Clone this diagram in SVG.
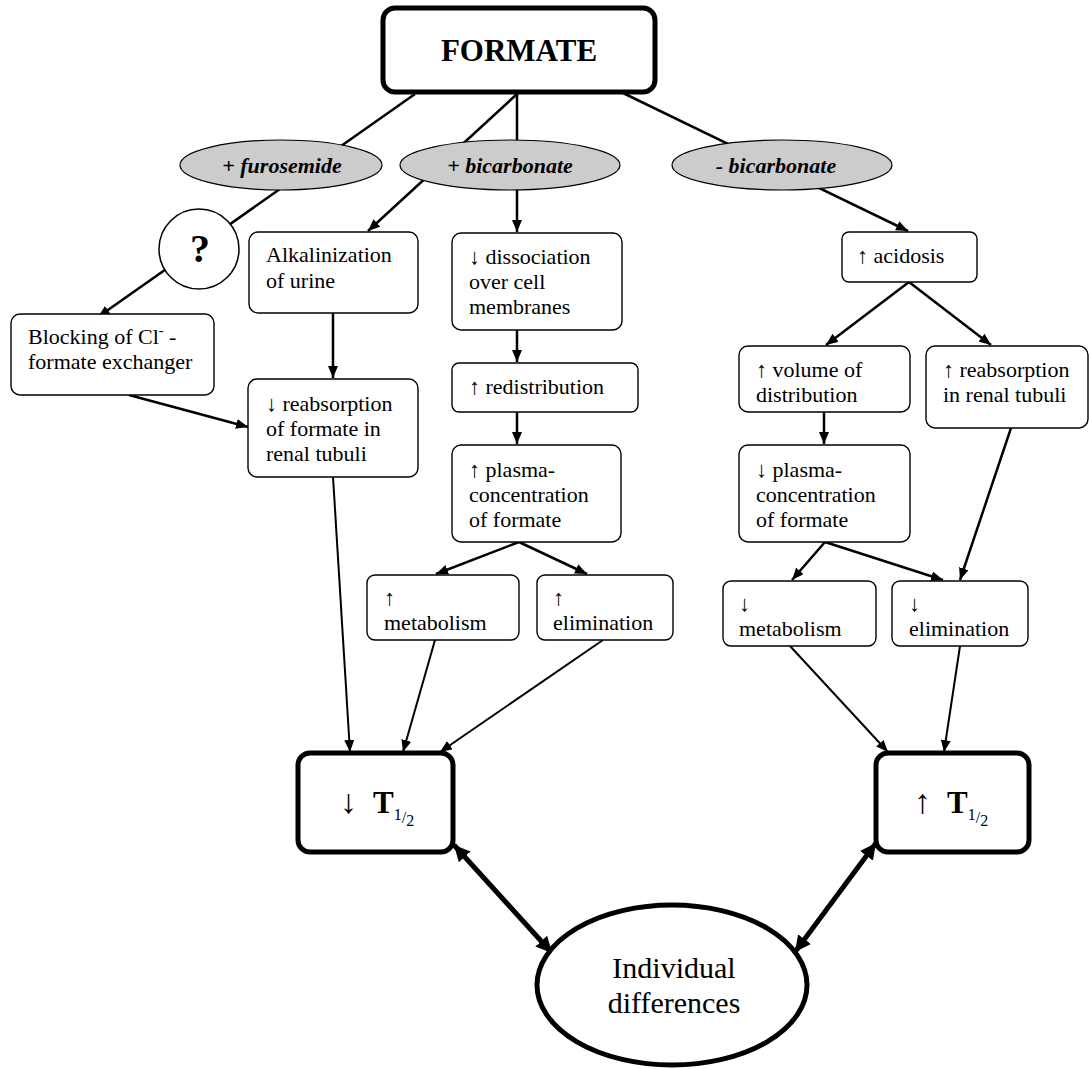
<svg xmlns="http://www.w3.org/2000/svg" width="1089" height="1069" viewBox="0 0 1089 1069">
<style>
.box{fill:#fff;stroke:#000;stroke-width:1.4}
.thick{fill:#fff;stroke:#000;stroke-width:5}
.ell{fill:#cccccc;stroke:#000;stroke-width:1.2}
.t{font-family:'Liberation Serif',serif;font-size:22px;fill:#000}
.ind{font-family:'Liberation Serif',serif;font-size:30px;fill:#000}
.lab{font-family:'Liberation Serif',serif;font-size:22px;font-weight:bold;font-style:italic;fill:#000}
.big{font-family:'Liberation Serif',serif;font-weight:bold;fill:#000}
.sub{font-weight:normal;font-size:16px}
.c{stroke:#000;stroke-width:2.5;fill:none}
.c2{stroke:#000;stroke-width:2;fill:none}
.cd{stroke:#000;stroke-width:5;fill:none}
</style>
<defs>
<marker id="ah" viewBox="0 0 12 10" refX="12" refY="5" markerWidth="12" markerHeight="10" markerUnits="userSpaceOnUse" orient="auto"><path d="M0,0 L12,5 L0,10 z" fill="#000"/></marker>
<marker id="ahb" viewBox="0 0 16 16" refX="16" refY="8" markerWidth="16" markerHeight="16" markerUnits="userSpaceOnUse" orient="auto-start-reverse"><path d="M0,0 L16,8 L0,16 z" fill="#000"/></marker>
</defs>

<g id="connectors">
<line class="c" x1="415" y1="94" x2="98" y2="317" marker-end="url(#ah)"/>
<line class="c" x1="517" y1="94" x2="368" y2="231" marker-end="url(#ah)"/>
<line class="c" x1="517" y1="94" x2="517" y2="232" marker-end="url(#ah)"/>
<line class="c" x1="623" y1="93" x2="908" y2="231" marker-end="url(#ah)"/>
<line class="c" x1="129" y1="395" x2="248" y2="427" marker-end="url(#ah)"/>
<line class="c" x1="333" y1="313" x2="333" y2="378" marker-end="url(#ah)"/>
<line class="c" x1="517" y1="330" x2="517" y2="362" marker-end="url(#ah)"/>
<line class="c" x1="517" y1="412" x2="517" y2="444" marker-end="url(#ah)"/>
<line class="c" x1="519" y1="542" x2="436" y2="574" marker-end="url(#ah)"/>
<line class="c" x1="519" y1="542" x2="587" y2="574" marker-end="url(#ah)"/>
<line class="c2" x1="333" y1="477" x2="350" y2="752" marker-end="url(#ah)"/>
<line class="c2" x1="435" y1="640" x2="403" y2="752" marker-end="url(#ah)"/>
<line class="c2" x1="603" y1="640" x2="440" y2="752" marker-end="url(#ah)"/>
<line class="c" x1="909" y1="282" x2="826" y2="345" marker-end="url(#ah)"/>
<line class="c" x1="909" y1="282" x2="991" y2="345" marker-end="url(#ah)"/>
<line class="c" x1="824" y1="412" x2="824" y2="444" marker-end="url(#ah)"/>
<line class="c" x1="825" y1="542" x2="792" y2="580" marker-end="url(#ah)"/>
<line class="c" x1="825" y1="542" x2="943" y2="580" marker-end="url(#ah)"/>
<line class="c" x1="1011" y1="428" x2="960" y2="580" marker-end="url(#ah)"/>
<line class="c2" x1="790" y1="646" x2="888" y2="752" marker-end="url(#ah)"/>
<line class="c2" x1="960" y1="646" x2="944" y2="752" marker-end="url(#ah)"/>
<line class="cd" x1="454" y1="845" x2="552" y2="953" marker-start="url(#ahb)" marker-end="url(#ahb)"/>
<line class="cd" x1="876" y1="843" x2="795" y2="952" marker-start="url(#ahb)" marker-end="url(#ahb)"/>
</g>

<g id="formate"><rect class="thick" x="383" y="8" width="272" height="84" rx="12"/><text class="big" x="519" y="61" font-size="31" text-anchor="middle">FORMATE</text></g>
<g id="furosemide"><ellipse class="ell" cx="281" cy="165" rx="101" ry="25"/><text class="lab" x="282" y="173" text-anchor="middle">+ furosemide</text></g>
<g id="bicarb-plus"><ellipse class="ell" cx="510" cy="165" rx="110" ry="25"/><text class="lab" x="510" y="173" text-anchor="middle">+  bicarbonate</text></g>
<g id="bicarb-minus"><ellipse class="ell" cx="782" cy="165" rx="110" ry="25"/><text class="lab" x="776" y="173" text-anchor="middle">- bicarbonate</text></g>
<g id="question"><circle cx="199" cy="249" r="40" fill="#fff" stroke="#000" stroke-width="1.5"/><text class="big" x="200" y="262" font-size="40" text-anchor="middle">?</text></g>
<g id="alkalinization"><rect class="box" x="249" y="232" width="169" height="81" rx="9"/><text class="t" x="266" y="262">Alkalinization</text><text class="t" x="266" y="288">of urine</text></g>
<g id="dissociation"><rect class="box" x="452" y="233" width="170" height="97" rx="9"/><text class="t" x="469" y="264">↓ dissociation</text><text class="t" x="469" y="289">over cell</text><text class="t" x="469" y="314">membranes</text></g>
<g id="redistribution"><rect class="box" x="452" y="363" width="186" height="49" rx="7"/><text class="t" x="469" y="394">↑ redistribution</text></g>
<g id="plasma-up"><rect class="box" x="452" y="445" width="169" height="97" rx="9"/><text class="t" x="469" y="477">↑ plasma-</text><text class="t" x="469" y="502">concentration</text><text class="t" x="469" y="527">of formate</text></g>
<g id="metabolism-up"><rect class="box" x="367" y="575" width="152" height="65" rx="8"/><text class="t" x="384" y="605">↑</text><text class="t" x="384" y="630">metabolism</text></g>
<g id="elimination-up"><rect class="box" x="537" y="575" width="136" height="65" rx="8"/><text class="t" x="553" y="605">↑</text><text class="t" x="553" y="630">elimination</text></g>
<g id="blocking"><rect class="box" x="11" y="314" width="203" height="81" rx="9"/><text class="t" x="28" y="344">Blocking of Cl<tspan font-size="14" dy="-9">-</tspan><tspan dy="9"> -</tspan></text><text class="t" x="28" y="369">formate exchanger</text></g>
<g id="reabsorption-down"><rect class="box" x="248" y="379" width="170" height="98" rx="9"/><text class="t" x="266" y="411">↓ reabsorption</text><text class="t" x="266" y="436">of formate in</text><text class="t" x="266" y="461">renal tubuli</text></g>
<g id="t-down"><rect class="thick" x="298" y="753" width="155" height="99" rx="12"/><text class="big" x="340" y="813" font-size="31"><tspan font-weight="normal" font-size="34">↓</tspan><tspan x="373">T</tspan><tspan class="sub" y="820">1</tspan><tspan class="sub" font-size="18" y="823">/</tspan><tspan class="sub" y="826">2</tspan></text></g>
<g id="acidosis"><rect class="box" x="842" y="232" width="135" height="50" rx="7"/><text class="t" x="857" y="263">↑ acidosis</text></g>
<g id="volume"><rect class="box" x="739" y="346" width="171" height="66" rx="9"/><text class="t" x="756" y="377">↑ volume of</text><text class="t" x="756" y="402">distribution</text></g>
<g id="reabsorption-up"><rect class="box" x="926" y="346" width="162" height="82" rx="9"/><text class="t" x="943" y="377">↑ reabsorption</text><text class="t" x="943" y="402">in renal tubuli</text></g>
<g id="plasma-down"><rect class="box" x="739" y="445" width="171" height="97" rx="9"/><text class="t" x="756" y="477">↓ plasma-</text><text class="t" x="756" y="502">concentration</text><text class="t" x="756" y="527">of formate</text></g>
<g id="metabolism-down"><rect class="box" x="723" y="581" width="153" height="65" rx="8"/><text class="t" x="739" y="611">↓</text><text class="t" x="739" y="636">metabolism</text></g>
<g id="elimination-down"><rect class="box" x="892" y="581" width="136" height="65" rx="8"/><text class="t" x="909" y="611">↓</text><text class="t" x="909" y="636">elimination</text></g>
<g id="t-up"><rect class="thick" x="876" y="753" width="153" height="99" rx="12"/><text class="big" x="914" y="813" font-size="31"><tspan font-weight="normal" font-size="34">↑</tspan><tspan x="947">T</tspan><tspan class="sub" y="820">1</tspan><tspan class="sub" font-size="18" y="823">/</tspan><tspan class="sub" y="826">2</tspan></text></g>
<g id="individual"><ellipse cx="672" cy="985" rx="135" ry="80" fill="#fff" stroke="#000" stroke-width="5"/><text class="ind" x="674" y="978" text-anchor="middle">Individual</text><text class="ind" x="674" y="1013" text-anchor="middle">differences</text></g>
</svg>
